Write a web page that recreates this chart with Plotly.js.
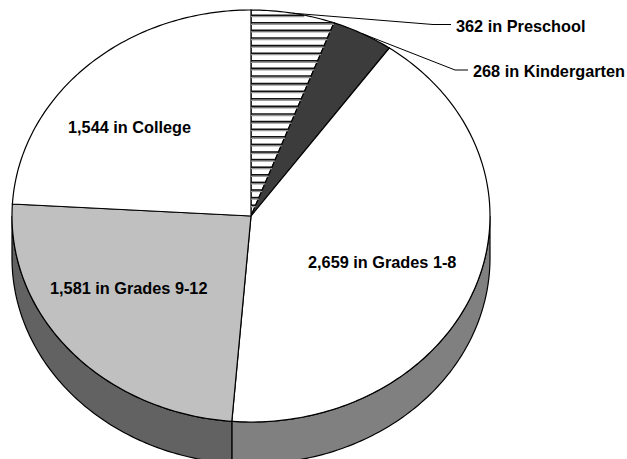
<!DOCTYPE html>
<html><head><meta charset="utf-8">
<script src="https://cdn.plot.ly/plotly-3.0.1.min.js"></script>
<style>html,body{margin:0;padding:0;background:#fff}#c{width:627px;height:459px}</style>
</head><body><div id="c"></div>
<script>
const categories = ["Preschool","Kindergarten","Grades 1-8","Grades 9-12","College"];
const values = [362,268,2659,1581,1544];
const tickLabels = ["362 in Preschool","268 in Kindergarten","2,659 in Grades 1-8","1,581 in Grades 9-12","1,544 in College"];
const topColors = ["#ffffff","#3c3c3c","#ffffff","#c0c0c0","#ffffff"];
const rimColors = ["#c0c0c0","#2a2a2a","#808080","#626262","#808080"];

const cx=251, cy=216, rx=239, ry=206, depth=42;
const total = values.reduce((a,b)=>a+b,0);
const pt=(deg,dy=0)=>{const t=deg*Math.PI/180;return [cx+rx*Math.sin(t), cy-ry*Math.cos(t)+dy];};
const traces=[];
const poly=(xs,ys,fill)=>traces.push({type:'scatter',mode:'lines',x:xs,y:ys,fill:'toself',fillcolor:fill,line:{color:'#000',width:1.2,simplify:false},hoverinfo:'skip',showlegend:false});

let bounds=[0]; values.forEach(v=>bounds.push(bounds[bounds.length-1]+v/total*360));

// visible rim (front half of the disc)
values.forEach((v,i)=>{
  const a=Math.max(bounds[i],90), b=Math.min(bounds[i+1],270);
  if(b<=a) return;
  const xs=[],ys=[];
  for(let d=a;d<=b;d+=1){const p=pt(d);xs.push(p[0]);ys.push(p[1]);}
  let p=pt(b);xs.push(p[0]);ys.push(p[1]);
  p=pt(b,depth);xs.push(p[0]);ys.push(p[1]);
  for(let d=b;d>=a;d-=1){const q=pt(d,depth);xs.push(q[0]);ys.push(q[1]);}
  p=pt(a,depth);xs.push(p[0]);ys.push(p[1]);
  p=pt(a);xs.push(p[0]);ys.push(p[1]);
  poly(xs,ys,rimColors[i]);
});
// top slices
values.forEach((v,i)=>{
  const xs=[cx],ys=[cy];
  for(let d=bounds[i];d<bounds[i+1];d+=1){const p=pt(d);xs.push(p[0]);ys.push(p[1]);}
  const p=pt(bounds[i+1]);xs.push(p[0],cx);ys.push(p[1],cy);
  poly(xs,ys,topColors[i]);
});
// hatch of the first slice
const hx=[],hy=[];
const e=pt(bounds[1]);
for(let y=15.2;y<cy-5;y+=7.6){
  const arcX=cx+rx*Math.sqrt(Math.max(0,1-Math.pow((cy-y)/ry,2)));
  const radX=cx+(e[0]-cx)*(cy-y)/(cy-e[1]);
  hx.push(cx,Math.min(arcX,radX),null);hy.push(y,y,null);
}
traces.push({type:'scatter',mode:'lines',x:hx,y:hy.map(v=>v===null?null:v+1.4),line:{color:'#999',width:1.5},hoverinfo:'skip',showlegend:false});
traces.push({type:'scatter',mode:'lines',x:hx,y:hy,line:{color:'#111',width:1.6},hoverinfo:'skip',showlegend:false});

// leader lines
const m0=pt((bounds[0]+bounds[1])/2), m1=pt((bounds[1]+bounds[2])/2);
traces.push({type:'scatter',mode:'lines',x:[m0[0],433,451],y:[m0[1],24.5,24.5],line:{color:'#000',width:1},hoverinfo:'skip',showlegend:false});
traces.push({type:'scatter',mode:'lines',x:[m1[0],455,468],y:[m1[1],70,70],line:{color:'#000',width:1},hoverinfo:'skip',showlegend:false});

const font={family:'"Liberation Sans",Arial,sans-serif',size:16.3,color:'#000',weight:'normal'};
const note=(i,x,y,anchor)=>({text:'<b>'+tickLabels[i]+'</b>',x,y,xref:'x',yref:'y',showarrow:false,xanchor:anchor,yanchor:'middle',font,borderpad:0});
const annotations=[note(0,455,26,'left'),note(1,472,71,'left'),note(2,381.5,262,'center'),note(3,128.5,288,'center'),note(4,129,127,'center')];

Plotly.newPlot('c',traces,{
  width:627,height:459,margin:{l:0,r:0,t:0,b:0},paper_bgcolor:'#fff',plot_bgcolor:'#fff',showlegend:false,
  xaxis:{range:[0,627],visible:false,fixedrange:true},
  yaxis:{range:[459,0],visible:false,fixedrange:true},
  annotations
},{displayModeBar:false,staticPlot:true});
</script></body></html>
